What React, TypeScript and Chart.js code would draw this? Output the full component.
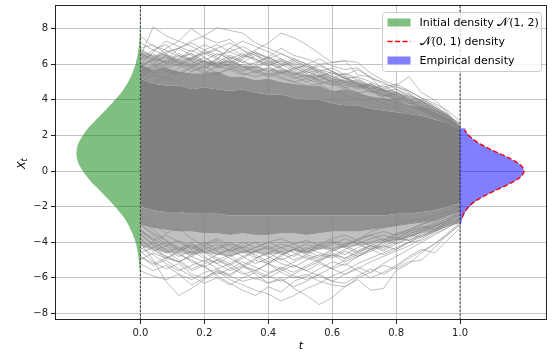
import React, { useEffect, useRef } from 'react';
import { Chart, registerables } from 'chart.js';

Chart.register(...registerables);

// ---------- axis ranges & ticks ----------
const X_MIN = -0.267;
const X_MAX = 1.272;
const Y_MIN = -8.37;
const Y_MAX = 9.33;
const X_TICKS = [0, 0.2, 0.4, 0.6, 0.8, 1.0];
const Y_TICKS = [-8, -6, -4, -2, 0, 2, 4, 6, 8];

// ---------- time grid of the paths ----------
const T = [0, 0.04, 0.08, 0.12, 0.16, 0.2, 0.24, 0.28, 0.32, 0.36, 0.4, 0.44, 0.48, 0.52, 0.56, 0.6, 0.64, 0.68, 0.72, 0.76, 0.8, 0.84, 0.88, 0.92, 0.96, 1.0];

// dense bundle of paths (read as bands from the picture)
const CORE_HI = [5.2, 4.9, 4.8, 4.8, 4.6, 4.7, 4.6, 4.5, 4.6, 4.4, 4.3, 4.3, 4.1, 4.0, 4.0, 3.8, 3.7, 3.7, 3.5, 3.4, 3.3, 3.2, 3.1, 2.9, 2.7, 2.3];
const MID_HI = [6.0, 5.7, 5.8, 5.6, 5.5, 5.5, 5.6, 5.3, 5.3, 5.1, 5.2, 5.0, 4.9, 4.8, 4.8, 4.5, 4.6, 4.4, 4.2, 4.1, 4.0, 3.7, 3.6, 3.3, 3.0, 2.4];
const OUT_HI = [6.8, 6.5, 6.6, 6.3, 6.4, 6.2, 6.1, 6.2, 5.9, 5.9, 5.7, 5.7, 5.6, 5.4, 5.4, 5.2, 5.1, 5.0, 4.8, 4.6, 4.5, 4.2, 4.0, 3.6, 3.2, 2.4];
const CORE_LO = [-2.0, -2.2, -2.3, -2.3, -2.4, -2.4, -2.4, -2.5, -2.5, -2.5, -2.5, -2.5, -2.5, -2.5, -2.5, -2.5, -2.5, -2.5, -2.5, -2.5, -2.4, -2.4, -2.3, -2.2, -2.0, -1.8];
const MID_LO = [-3.0, -3.2, -3.3, -3.4, -3.4, -3.5, -3.5, -3.6, -3.5, -3.6, -3.6, -3.5, -3.5, -3.6, -3.5, -3.4, -3.4, -3.4, -3.3, -3.2, -3.1, -3.0, -2.9, -2.8, -2.5, -2.3];
const OUT_LO = [-4.2, -4.4, -4.6, -4.6, -4.7, -4.6, -4.7, -4.8, -4.6, -4.6, -4.7, -4.6, -4.5, -4.6, -4.4, -4.4, -4.3, -4.2, -4.1, -4.0, -3.9, -3.7, -3.5, -3.4, -3.1, -2.9];

// individual outlying paths (upper side)
const PATHS_UPPER = [
  [6.4, 8.1, 7.6, 7.3, 7.0, 6.6, 6.8, 6.2, 5.9, 5.6, 5.8, 5.3, 5.0, 4.8, 4.9, 4.5, 4.3, 4.0, 3.9, 3.6, 3.5, 3.2, 3.0, 2.7, 2.5, 2.2],
  [5.8, 6.3, 6.9, 7.3, 8.0, 7.5, 7.2, 7.4, 6.8, 6.5, 6.0, 5.8, 5.5, 5.2, 5.4, 4.9, 4.6, 4.4, 4.1, 3.8, 3.6, 3.4, 3.0, 2.8, 2.4, 2.0],
  [5.5, 5.9, 6.2, 6.9, 7.3, 7.6, 8.05, 7.9, 7.75, 7.2, 6.9, 6.6, 6.3, 6.0, 5.7, 5.5, 5.2, 4.9, 4.6, 4.3, 4.0, 3.8, 3.4, 3.1, 2.8, 2.3],
  [5.0, 5.4, 5.2, 5.8, 6.0, 5.7, 6.3, 6.9, 6.5, 6.8, 7.2, 7.75, 7.5, 7.1, 6.6, 6.1, 6.2, 5.4, 5.3, 4.5, 4.4, 4.0, 3.6, 3.3, 2.9, 2.5],
  [4.5, 4.9, 5.3, 5.0, 5.6, 5.9, 6.2, 5.8, 6.3, 6.6, 6.4, 6.9, 6.5, 6.3, 6.0, 6.1, 6.2, 6.1, 5.5, 5.1, 4.8, 5.3, 4.4, 4.0, 3.3, 2.4],
  [6.9, 7.1, 6.6, 6.9, 7.2, 6.8, 6.5, 6.7, 7.0, 6.6, 6.1, 6.3, 5.8, 5.5, 5.7, 5.3, 5.0, 4.7, 4.9, 4.5, 4.1, 3.9, 3.5, 3.2, 2.9, 2.6],
  [6.0, 6.7, 7.3, 7.0, 6.7, 7.1, 6.8, 6.4, 6.1, 6.5, 6.2, 5.9, 6.2, 5.8, 5.5, 5.1, 5.3, 4.9, 4.5, 4.3, 4.0, 3.7, 3.5, 3.2, 2.9, 2.5],
  [7.2, 6.8, 7.1, 6.5, 6.2, 6.6, 6.3, 6.9, 7.3, 7.0, 6.7, 6.3, 6.0, 5.6, 5.9, 5.6, 5.2, 5.0, 4.6, 4.4, 4.3, 3.9, 3.6, 3.4, 3.1, 2.7],
  [5.3, 5.7, 6.0, 6.3, 6.6, 6.2, 6.0, 6.4, 6.1, 6.0, 6.4, 6.1, 5.7, 6.0, 6.3, 5.9, 5.7, 5.8, 5.2, 5.0, 4.6, 4.2, 4.0, 3.7, 3.2, 2.6],
  [6.6, 6.2, 6.4, 6.0, 6.4, 6.6, 6.9, 7.2, 6.8, 6.3, 6.0, 6.2, 5.9, 5.6, 5.3, 5.5, 5.4, 5.7, 5.3, 4.9, 4.7, 4.5, 4.1, 3.8, 3.4, 2.8],
  [7.6, 7.0, 6.8, 6.4, 6.6, 6.1, 5.9, 6.0, 5.7, 5.9, 6.2, 5.8, 5.4, 5.6, 5.3, 5.0, 5.1, 4.8, 4.9, 4.6, 4.8, 4.4, 3.9, 3.5, 3.1, 2.5],
  [5.9, 6.3, 6.1, 6.6, 6.3, 6.8, 7.1, 6.7, 6.4, 6.7, 6.3, 6.6, 6.2, 5.9, 5.6, 5.8, 5.4, 5.1, 4.8, 4.6, 4.2, 4.0, 3.8, 3.4, 3.0, 2.3],
];

// paths at the upper edge of the dense bundle
const FRINGE_UPPER = [
  [6.2, 6.6, 6.0, 6.3, 6.8, 6.4, 6.0, 6.2, 5.8, 6.1, 6.4, 6.0, 5.6, 5.3, 5.6, 5.2, 4.8, 5.0, 4.6, 4.2, 4.4, 4.0, 3.7, 3.3, 2.9, 2.3],
  [5.6, 6.0, 6.5, 6.1, 5.8, 6.2, 6.6, 6.3, 6.6, 6.2, 5.9, 5.5, 5.8, 5.5, 5.1, 5.4, 5.0, 4.7, 4.9, 4.5, 4.1, 3.8, 3.9, 3.5, 3.0, 2.5],
  [6.6, 6.3, 6.7, 6.9, 6.5, 6.0, 6.3, 5.9, 5.6, 5.9, 5.6, 5.9, 6.1, 5.7, 5.4, 5.0, 4.7, 4.8, 4.4, 4.6, 4.2, 3.9, 3.6, 3.2, 2.8, 2.2],
  [5.2, 5.8, 6.2, 5.9, 6.3, 6.7, 6.4, 6.1, 6.5, 6.3, 5.9, 6.2, 5.8, 5.9, 5.5, 5.2, 5.5, 5.2, 4.8, 4.4, 4.0, 4.3, 3.8, 3.4, 3.1, 2.6],
  [6.9, 6.4, 6.1, 6.5, 6.2, 5.8, 6.1, 6.5, 6.2, 5.8, 6.1, 5.7, 5.4, 5.7, 6.0, 5.6, 5.2, 5.3, 5.0, 4.7, 4.9, 4.5, 4.1, 3.6, 3.1, 2.4],
  [5.9, 5.5, 5.9, 6.2, 6.0, 6.4, 5.9, 5.7, 6.0, 5.7, 5.4, 5.6, 5.3, 5.0, 5.3, 5.6, 5.3, 4.9, 4.6, 4.8, 4.4, 4.1, 3.7, 3.4, 3.0, 2.4],
  [6.3, 6.8, 6.5, 6.1, 5.9, 6.2, 5.8, 6.0, 6.4, 6.7, 6.3, 6.0, 6.3, 6.0, 5.6, 5.3, 4.9, 4.6, 4.8, 4.3, 4.1, 3.8, 3.5, 3.1, 2.7, 2.3],
  [5.4, 5.9, 5.6, 5.4, 5.8, 5.5, 5.9, 6.3, 5.9, 5.5, 5.8, 5.5, 5.2, 5.4, 5.1, 4.8, 5.0, 5.1, 4.7, 4.5, 4.6, 4.3, 3.9, 3.6, 3.2, 2.5],
  [6.0, 6.2, 5.8, 6.0, 5.6, 5.9, 5.5, 5.7, 5.4, 5.6, 5.3, 5.5, 5.7, 5.4, 5.0, 4.9, 5.2, 4.8, 4.5, 4.2, 4.3, 3.9, 3.6, 3.3, 2.9, 2.4],
  [6.5, 6.0, 5.7, 5.5, 5.9, 5.6, 5.4, 5.8, 5.5, 5.3, 5.5, 5.2, 5.0, 5.2, 4.9, 5.1, 4.7, 4.4, 4.5, 4.1, 3.8, 3.6, 3.4, 3.0, 2.7, 2.1],
];

// individual outlying paths (lower side)
const PATHS_LOWER = [
  [-4.0, -5.0, -6.2, -7.0, -6.6, -6.1, -5.7, -5.9, -5.4, -5.0, -5.2, -4.7, -4.4, -4.6, -4.1, -3.8, -3.6, -3.9, -3.4, -3.2, -3.0, -2.8, -2.7, -2.5, -2.3, -2.0],
  [-3.5, -4.2, -4.8, -5.1, -5.6, -5.3, -5.9, -6.3, -6.7, -7.0, -6.5, -6.8, -6.2, -5.9, -5.5, -5.1, -5.3, -4.8, -4.4, -4.1, -3.8, -3.5, -3.3, -3.1, -2.8, -2.5],
  [-4.5, -5.1, -5.5, -5.2, -5.8, -6.0, -5.6, -6.1, -6.4, -6.7, -6.9, -7.3, -7.0, -6.6, -6.3, -5.9, -5.6, -5.2, -4.9, -4.6, -4.3, -4.0, -3.6, -3.3, -3.0, -2.7],
  [-3.0, -3.6, -4.1, -4.5, -4.2, -4.8, -5.2, -5.6, -5.3, -5.8, -6.3, -6.0, -6.6, -7.0, -7.5, -7.1, -6.5, -6.0, -5.7, -5.2, -4.8, -4.4, -4.0, -3.6, -3.2, -2.8],
  [-2.8, -3.3, -3.9, -4.4, -4.0, -4.6, -5.0, -4.7, -5.3, -5.6, -5.2, -5.7, -6.0, -5.8, -6.2, -6.4, -6.5, -6.1, -6.7, -6.6, -5.6, -5.2, -4.6, -4.1, -3.6, -3.0],
  [-2.5, -3.0, -3.5, -3.2, -3.8, -4.2, -3.9, -4.5, -4.3, -4.8, -5.2, -4.9, -5.3, -5.6, -5.2, -5.5, -5.8, -5.4, -5.7, -5.3, -5.5, -5.1, -5.0, -4.3, -3.6, -3.0],
  [-5.2, -5.6, -5.3, -5.8, -6.1, -5.7, -5.5, -5.9, -6.2, -6.0, -6.3, -6.1, -6.5, -6.2, -5.8, -5.4, -5.0, -4.7, -4.4, -4.2, -3.9, -3.7, -3.3, -3.0, -2.7, -2.4],
  [-3.8, -4.4, -4.9, -4.6, -5.1, -5.4, -5.8, -5.5, -5.1, -5.4, -5.7, -5.5, -5.9, -6.1, -5.8, -6.2, -6.3, -5.9, -5.5, -5.8, -5.4, -4.9, -4.5, -4.1, -3.5, -2.9],
  [-5.6, -5.9, -6.1, -5.8, -6.4, -6.0, -5.6, -5.8, -5.4, -5.6, -5.2, -5.5, -5.1, -4.8, -5.0, -4.6, -4.9, -4.5, -4.2, -4.5, -4.1, -3.8, -3.4, -3.1, -2.8, -2.2],
  [-4.8, -5.3, -5.0, -5.5, -5.9, -6.3, -6.0, -6.4, -6.0, -5.7, -6.0, -5.6, -5.3, -5.6, -5.9, -6.2, -5.8, -5.5, -5.1, -4.8, -4.5, -4.2, -3.8, -3.4, -3.1, -2.6],
  [-3.3, -3.9, -4.5, -5.0, -5.5, -5.2, -5.0, -5.4, -5.8, -5.6, -5.9, -6.2, -5.8, -5.4, -5.1, -5.5, -5.2, -5.6, -6.0, -5.7, -5.3, -4.8, -4.4, -4.6, -3.9, -3.2],
  [-4.3, -4.7, -5.2, -5.6, -5.3, -5.0, -5.5, -5.2, -5.7, -6.1, -5.8, -5.4, -5.7, -5.3, -5.0, -4.7, -5.1, -4.8, -4.4, -4.7, -4.4, -4.0, -3.9, -3.5, -3.2, -2.7],
];

// paths at the lower edge of the dense bundle
const FRINGE_LOWER = [
  [-3.6, -4.1, -4.6, -4.3, -4.8, -5.1, -4.7, -4.4, -4.8, -5.2, -4.9, -4.5, -4.8, -4.4, -4.1, -4.4, -4.7, -4.3, -4.0, -3.8, -4.1, -3.7, -3.4, -3.1, -2.8, -2.5],
  [-4.6, -4.3, -4.0, -4.4, -4.1, -4.5, -4.9, -5.2, -4.8, -4.5, -4.2, -4.6, -5.0, -4.7, -4.9, -4.5, -4.2, -4.5, -4.1, -4.3, -3.9, -3.6, -3.7, -3.3, -2.9, -2.4],
  [-3.0, -3.5, -3.9, -4.3, -4.6, -4.2, -4.5, -4.9, -5.3, -4.9, -4.6, -5.0, -4.7, -4.3, -4.6, -4.8, -4.4, -4.1, -4.4, -4.0, -3.7, -3.9, -3.5, -3.2, -2.9, -2.7],
  [-5.0, -4.6, -4.9, -4.5, -4.2, -4.6, -4.3, -4.0, -4.4, -4.7, -5.1, -4.8, -4.4, -4.7, -4.3, -4.0, -4.3, -4.6, -4.2, -3.9, -3.6, -3.4, -3.1, -3.3, -2.9, -2.6],
  [-4.1, -4.5, -4.2, -4.7, -5.0, -5.4, -5.0, -5.3, -4.9, -4.5, -4.8, -5.2, -5.4, -5.0, -4.7, -4.9, -4.5, -4.8, -4.5, -4.2, -4.4, -4.0, -3.7, -3.4, -3.0, -2.8],
  [-3.3, -3.8, -4.2, -3.9, -4.3, -4.0, -4.4, -4.1, -4.3, -4.0, -4.4, -4.1, -4.3, -4.6, -4.2, -3.9, -4.2, -3.8, -3.6, -3.9, -3.5, -3.3, -3.0, -2.8, -2.6, -2.3],
  [-4.4, -4.0, -4.4, -4.8, -4.5, -4.9, -5.2, -4.8, -4.5, -4.9, -4.6, -4.3, -4.1, -4.5, -4.8, -4.4, -4.1, -3.9, -4.2, -4.4, -4.0, -3.6, -3.2, -3.0, -2.7, -2.4],
  [-3.9, -4.4, -4.8, -5.1, -4.8, -4.4, -4.1, -4.5, -4.2, -4.5, -4.3, -4.7, -4.4, -4.1, -4.4, -4.1, -3.8, -4.1, -3.8, -3.6, -3.8, -3.4, -3.2, -2.9, -2.5, -2.2],
  [-4.8, -5.2, -4.9, -5.1, -4.7, -4.3, -4.7, -4.4, -4.0, -4.3, -4.0, -4.3, -4.6, -4.9, -5.1, -4.7, -4.9, -4.6, -4.3, -4.0, -3.8, -3.9, -3.6, -3.4, -3.1, -2.9],
  [-3.4, -3.9, -3.6, -4.0, -4.4, -4.1, -3.8, -4.2, -4.6, -4.3, -4.0, -3.8, -4.1, -3.9, -4.2, -4.5, -4.2, -3.9, -3.6, -3.4, -3.6, -3.3, -3.0, -2.7, -2.5, -2.2],
];

// initial density (drawn leftwards from t = 0)
const GREEN_Y = [-5.7, -5.5, -5, -4.5, -4, -3.5, -3, -2.5, -2, -1.5, -1, -0.5, 0, 0.5, 1, 1.5, 2, 2.5, 3, 3.5, 4, 4.5, 5, 5.5, 6, 6.5, 7, 7.5, 8, 8.2];
const GREEN_W = [0.0019, 0.0025, 0.0049, 0.0088, 0.015, 0.025, 0.038, 0.056, 0.079, 0.105, 0.132, 0.159, 0.180, 0.195, 0.2, 0.195, 0.180, 0.159, 0.132, 0.105, 0.079, 0.056, 0.038, 0.025, 0.015, 0.0088, 0.0049, 0.0025, 0.0013, 0.001];

// empirical density (drawn rightwards from t = 1)
const BLUE_Y = [-3.0, -2.75, -2.5, -2.25, -2.0, -1.75, -1.5, -1.25, -1.0, -0.75, -0.5, -0.25, 0, 0.25, 0.5, 0.75, 1.0, 1.25, 1.5, 1.75, 2.0, 2.25, 2.4];
const BLUE_W = [0.003, 0.006, 0.011, 0.019, 0.030, 0.046, 0.068, 0.094, 0.123, 0.152, 0.177, 0.194, 0.200, 0.195, 0.178, 0.152, 0.122, 0.092, 0.066, 0.044, 0.028, 0.018, 0.016];

// N(0,1) reference density
const RED_Y = [-2.6, -2.5, -2.25, -2.0, -1.75, -1.5, -1.25, -1.0, -0.75, -0.5, -0.25, 0, 0.25, 0.5, 0.75, 1.0, 1.25, 1.5, 1.75, 2.0, 2.25, 2.3];
const RED_W = [0.0068, 0.0088, 0.0159, 0.0271, 0.0432, 0.0649, 0.0916, 0.1213, 0.151, 0.1765, 0.1938, 0.2, 0.1938, 0.1765, 0.151, 0.1213, 0.0916, 0.0649, 0.0432, 0.0271, 0.0159, 0.0142];

const LEGEND_LABELS = [
  { kind: 'patch', color: 'rgba(0,128,0,0.5)', parts: [{ t: 'Initial density ', math: false }, { t: '\u{1D4A9}', math: true }, { t: '(1, 2)', math: false }] },
  { kind: 'line', color: 'red', parts: [{ t: '\u{1D4A9}', math: true }, { t: '(0, 1) density', math: false }] },
  { kind: 'patch', color: 'rgba(0,0,255,0.5)', parts: [{ t: 'Empirical density', math: false }] },
];

const FONT = "'DejaVu Sans', sans-serif";

const pts = (xs: number[], ys: number[]) => xs.map((x, i) => ({ x, y: ys[i] }));

function bandDataset(vals: number[], fill: any, color: string) {
  return {
    data: pts(T, vals),
    borderColor: 'rgba(0,0,0,0)',
    borderWidth: 0,
    backgroundColor: color,
    fill,
    pointRadius: 0,
    tension: 0,
    order: 10,
  };
}

const framePlugin = {
  id: 'frameAndLegend',
  afterDraw(chart: any) {
    const { ctx, chartArea: ca } = chart;
    ctx.save();
    // axes frame
    ctx.strokeStyle = '#222';
    ctx.lineWidth = 1;
    ctx.setLineDash([]);
    ctx.strokeRect(ca.left + 0.5, ca.top + 0.5, ca.right - ca.left - 1, ca.bottom - ca.top - 1);

    // axis titles
    ctx.fillStyle = '#000';
    ctx.textBaseline = 'alphabetic';
    ctx.font = `italic 11px ${FONT}`;
    ctx.textAlign = 'center';
    ctx.fillText('t', (ca.left + ca.right) / 2, 349);

    ctx.save();
    ctx.translate(24.5, 169);
    ctx.rotate(-Math.PI / 2);
    ctx.textAlign = 'left';
    ctx.font = `italic 11px ${FONT}`;
    ctx.fillText('X', 0, 0);
    const wX = ctx.measureText('X').width;
    ctx.font = `italic 8px ${FONT}`;
    ctx.fillText('t', wX, 2.5);
    ctx.restore();

    // legend
    const bx = ca.right - 164.5;
    const by = ca.top + 7.5;
    const bw = 159;
    const bh = 59;
    ctx.beginPath();
    ctx.roundRect(bx, by, bw, bh, 3);
    ctx.fillStyle = 'rgba(255,255,255,0.8)';
    ctx.fill();
    ctx.strokeStyle = '#cccccc';
    ctx.lineWidth = 1;
    ctx.stroke();

    LEGEND_LABELS.forEach((it, i) => {
      const cy = by + 10 + i * 19;
      const hx = bx + 5;
      if (it.kind === 'patch') {
        ctx.fillStyle = it.color;
        ctx.fillRect(hx, cy - 4, 23, 8);
      } else {
        ctx.strokeStyle = it.color;
        ctx.lineWidth = 1.5;
        ctx.setLineDash([5, 2.5]);
        ctx.beginPath();
        ctx.moveTo(hx, cy);
        ctx.lineTo(hx + 23, cy);
        ctx.stroke();
        ctx.setLineDash([]);
      }
      let cx = hx + 32;
      ctx.fillStyle = '#000';
      ctx.textBaseline = 'middle';
      ctx.textAlign = 'left';
      for (const p of it.parts) {
        ctx.font = p.math ? `12px 'DejaVu Serif', 'DejaVu Sans', serif` : `11px ${FONT}`;
        ctx.fillText(p.t, cx, cy + 0.5);
        cx += ctx.measureText(p.t).width;
      }
    });
    ctx.restore();
  },
};

export default function App() {
  const ref = useRef<HTMLCanvasElement>(null);

  useEffect(() => {
    document.body.style.margin = '0';
    const lineSet = (p: number[], color: string) => ({
      data: pts(T, p),
      borderColor: color,
      borderWidth: 1,
      pointRadius: 0,
      fill: false,
      tension: 0,
      order: 8,
    });
    const pathSets = [
      ...[...PATHS_UPPER, ...PATHS_LOWER].map((p) => lineSet(p, 'rgba(128,128,128,0.5)')),
      ...[...FRINGE_UPPER, ...FRINGE_LOWER].map((p) => lineSet(p, 'rgba(128,128,128,0.55)')),
    ];

    const greenData = [...pts(GREEN_W.map((w) => -w), GREEN_Y), { x: 0, y: GREEN_Y[GREEN_Y.length - 1] }, { x: 0, y: GREEN_Y[0] }];
    const blueData = [{ x: 1, y: BLUE_Y[0] }, ...pts(BLUE_W.map((w) => 1 + w), BLUE_Y), { x: 1, y: BLUE_Y[BLUE_Y.length - 1] }];
    const redData = pts(RED_W.map((w) => 1 + w), RED_Y);

    const datasets: any[] = [
      { data: redData, borderColor: 'red', borderWidth: 1.4, borderDash: [5, 2.5], pointRadius: 0, fill: false, tension: 0.3, order: 0 },
      { data: greenData, borderColor: 'rgba(0,0,0,0)', borderWidth: 0, backgroundColor: 'rgba(0,128,0,0.5)', fill: 'shape', pointRadius: 0, tension: 0.3, order: 1 },
      { data: blueData, borderColor: 'rgba(0,0,0,0)', borderWidth: 0, backgroundColor: 'rgba(0,0,255,0.5)', fill: 'shape', pointRadius: 0, tension: 0.2, order: 1 },
      { data: [{ x: 0, y: Y_MIN }, { x: 0, y: Y_MAX }], borderColor: 'rgba(0,0,0,0.7)', borderWidth: 1, borderDash: [2.5, 1.5], pointRadius: 0, fill: false, order: 2 },
      { data: [{ x: 1, y: Y_MIN }, { x: 1, y: Y_MAX }], borderColor: 'rgba(0,0,0,0.7)', borderWidth: 1, borderDash: [2.5, 1.5], pointRadius: 0, fill: false, order: 2 },
      ...pathSets,
      bandDataset(OUT_HI, '+1', 'rgba(128,128,128,0.5)'),
      bandDataset(MID_HI, '+1', 'rgba(128,128,128,0.85)'),
      bandDataset(CORE_HI, '+1', 'rgb(128,128,128)'),
      bandDataset(CORE_LO, '+1', 'rgba(128,128,128,0.85)'),
      bandDataset(MID_LO, '+1', 'rgba(128,128,128,0.5)'),
      bandDataset(OUT_LO, false, 'rgba(0,0,0,0)'),
    ];

    const tickFont = { family: FONT, size: 10 };
    const chart = new Chart(ref.current as HTMLCanvasElement, {
      type: 'line',
      data: { datasets },
      options: {
        responsive: false,
        animation: false,
        layout: { padding: { left: 0, right: 13, top: 5, bottom: 0 } },
        plugins: { legend: { display: false }, tooltip: { enabled: false } },
        elements: { point: { radius: 0 } },
        scales: {
          x: {
            type: 'linear',
            min: X_MIN,
            max: X_MAX,
            afterBuildTicks: (s: any) => { s.ticks = X_TICKS.map((v) => ({ value: v })); },
            afterFit: (s: any) => { s.height = 38; s.paddingLeft = 0; s.paddingRight = 0; },
            ticks: { callback: (v: any) => Number(v).toFixed(1), font: tickFont, color: '#222', padding: 3, maxRotation: 0, autoSkip: false },
            grid: { color: 'rgba(176,176,176,0.75)', lineWidth: 1, drawTicks: true, tickLength: 4, tickColor: '#222', tickWidth: 1 },
            border: { display: false },
          },
          y: {
            type: 'linear',
            min: Y_MIN,
            max: Y_MAX,
            afterBuildTicks: (s: any) => { s.ticks = Y_TICKS.map((v) => ({ value: v })); },
            afterFit: (s: any) => { s.width = 55; s.paddingTop = 0; s.paddingBottom = 0; },
            ticks: { callback: (v: any) => String(Math.round(Number(v))).replace('-', '\u2212'), font: tickFont, color: '#222', padding: 3, autoSkip: false },
            grid: { color: 'rgba(176,176,176,0.75)', lineWidth: 1, drawTicks: true, tickLength: 4, tickColor: '#222', tickWidth: 1 },
            border: { display: false },
          },
        },
      },
      plugins: [framePlugin],
    } as any);
    return () => chart.destroy();
  }, []);

  return <canvas ref={ref} width={560} height={358} style={{ display: 'block', width: 560, height: 358 }} />;
}
